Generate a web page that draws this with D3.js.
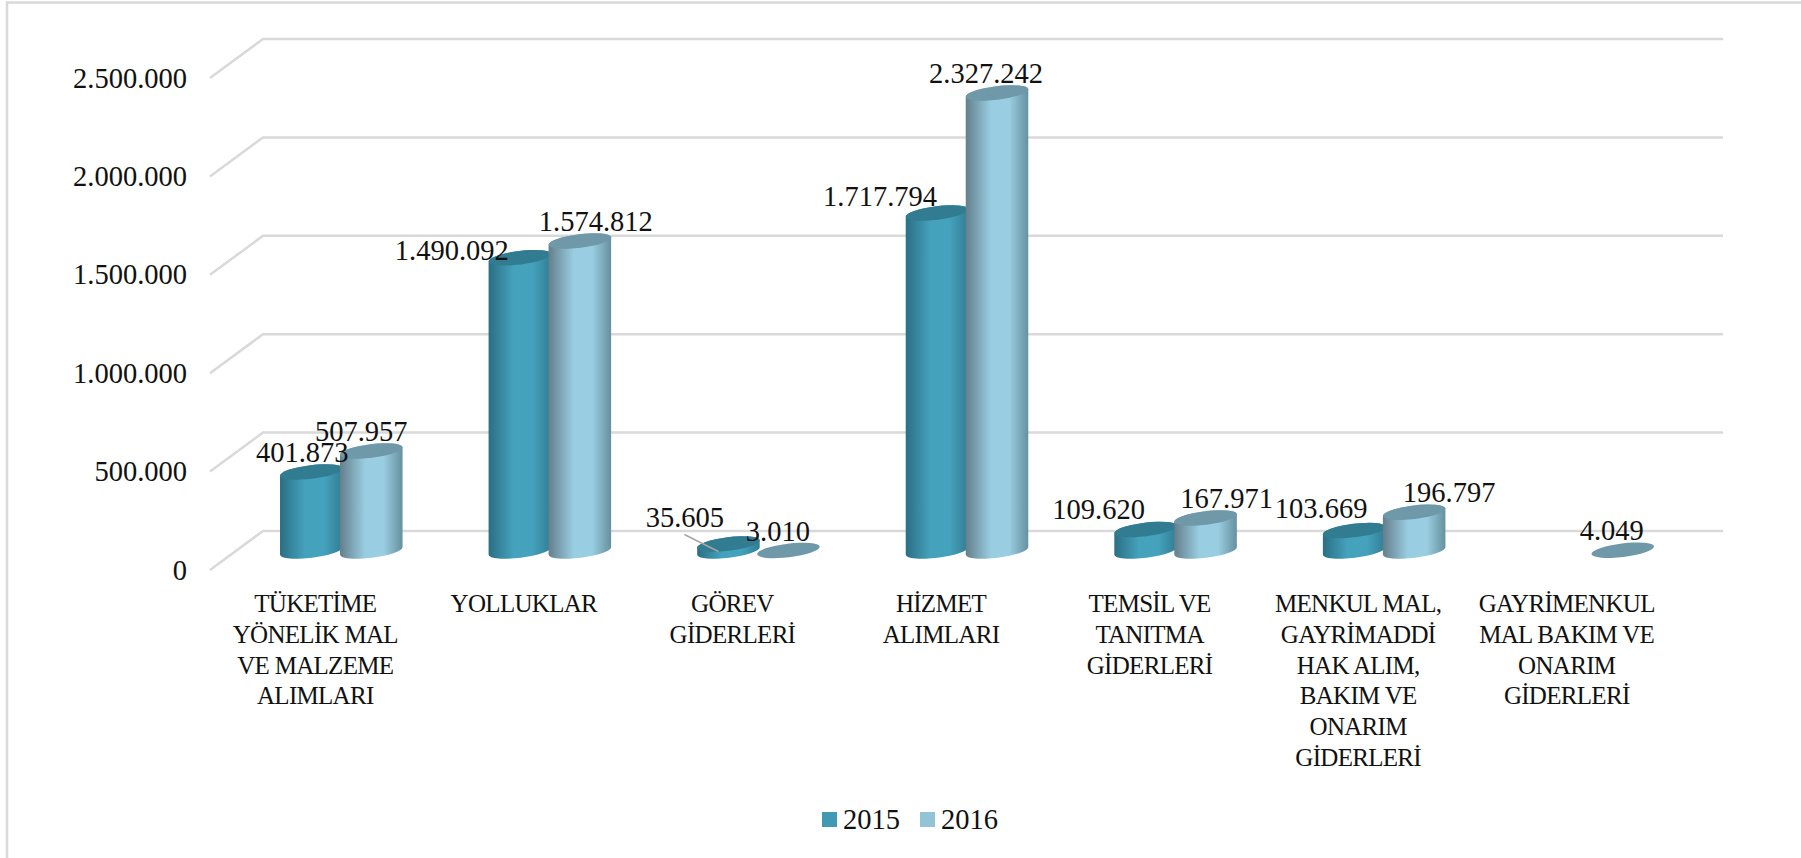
<!DOCTYPE html>
<head>
  <meta charset="utf-8">
  <script src="https://d3js.org/d3.v7.min.js"></script>
  <style>
    body { margin:0; background-color:#fff; overflow:hidden; }
    text { font-family:"Liberation Serif",serif; fill:#111; }
  </style>
</head>
<body>
<script>
var categories = [
  ["TÜKETİME","YÖNELİK MAL","VE MALZEME","ALIMLARI"],
  ["YOLLUKLAR"],
  ["GÖREV","GİDERLERİ"],
  ["HİZMET","ALIMLARI"],
  ["TEMSİL VE","TANITMA","GİDERLERİ"],
  ["MENKUL MAL,","GAYRİMADDİ","HAK ALIM,","BAKIM VE","ONARIM","GİDERLERİ"],
  ["GAYRİMENKUL","MAL BAKIM VE","ONARIM","GİDERLERİ"]
];
var years = ["2015","2016"];
var values2015 = [401873,1490092,35605,1717794,109620,103669,null];
var values2016 = [507957,1574812,3010,2327242,167971,196797,4049];
var yTicks = [0,500000,1000000,1500000,2000000,2500000];

// label nudges from the top of each cylinder, placed by hand like the original
var labelShift2015 = [[-9,-19],[-68,-7],[-43.5,-26.5],[-57,-16],[-47,-20],[-33,-22],[0,0]];
var labelShift2016 = [[-10,-19],[16,-19],[-10.5,-19],[-11,-19],[21,-19],[35,-20],[-11,-20]];

var width = 1801, height = 858;
var depthX = 54, depthY = 39;
var floorLeft = 210, floorRight = 1670, floorY = 570;
var plotH = 492;
var numSize = 28.5, catSize = 25;
var rx = 31.5, ry = 6.8, tilt = -7;

var svg = d3.select("body").append("svg").attr("width",width).attr("height",height);
var defs = svg.append("defs");

function addGrad(id, edgeL, mid, edgeR) {
  var g = defs.append("linearGradient").attr("id",id);
  g.append("stop").attr("offset","0%").attr("stop-color",edgeL);
  g.append("stop").attr("offset","40%").attr("stop-color",mid);
  g.append("stop").attr("offset","70%").attr("stop-color",mid);
  g.append("stop").attr("offset","100%").attr("stop-color",edgeR);
}
addGrad("g2015","#2a6f84","#45a2bd","#317d93");
addGrad("g2016","#647f8c","#99cde1","#66909f");

// chart frame, only top and left show
svg.append("path").attr("d","M7,858V2.5H1801").attr("fill","none").attr("stroke","#d9d9d9").attr("stroke-width",2.5);

var yFront = d3.scaleLinear().domain([0,2500000]).range([floorY,floorY-plotH]);
var yBar = d3.scaleLinear().domain([0,2500000]).range([floorY-depthY/2+0.5,floorY-plotH-depthY/2+0.5]);
var x0 = d3.scaleBand().domain(d3.range(categories.length)).range([floorLeft,floorRight]);
var x1 = d3.scaleBand().domain(years).range([-60,60]);

function barX(i, year) {
  return x0(i)+x0.bandwidth()/2+depthX/2+x1(year)+x1.bandwidth()/2;
}

// walls
var grid = svg.append("g").attr("fill","none").attr("stroke","#d9d9d9").attr("stroke-width",2.5);
yTicks.forEach(function(t){
  var y = yFront(t);
  grid.append("path").attr("d","M"+floorLeft+","+y+"L"+(floorLeft+53)+","+(y-depthY)+"H"+(floorRight+53));
});

// y axis
var fmt = d3.formatLocale({decimal:",",thousands:".",grouping:[3],currency:["",""]}).format(",d");
var yAxis = svg.append("g")
  .attr("transform","translate(192,0)")
  .call(d3.axisLeft(yFront).tickValues(yTicks).tickFormat(fmt).tickSize(0).tickPadding(5));
yAxis.select(".domain").remove();
yAxis.selectAll("text").style("font-family",'"Liberation Serif",serif').style("font-size",numSize+"px").style("fill","#111");

// cylinders
var cos = Math.cos(tilt*Math.PI/180), sin = Math.sin(tilt*Math.PI/180);
function body(cx, top, base) {
  var dx = rx*cos, dy = rx*sin;
  return "M"+(cx-dx)+","+(top-dy)+"V"+(base-dy)
    +"A"+rx+","+ry+" "+tilt+" 0 0 "+(cx+dx)+","+(base+dy)
    +"V"+(top+dy)
    +"A"+rx+","+ry+" "+tilt+" 0 0 "+(cx-dx)+","+(top-dy)+"Z";
}
var series = [
  {year:"2015",values:values2015,fill:"url(#g2015)",cap:"#327c91",shift:labelShift2015},
  {year:"2016",values:values2016,fill:"url(#g2016)",cap:"#6f98a8",shift:labelShift2016}
];
var bars = svg.append("g");
categories.forEach(function(c,i){
  series.forEach(function(s){
    var v = s.values[i];
    if (v === null) return;
    var cx = barX(i,s.year);
    var top = yBar(v), base = yBar(0);
    // the near-zero bar is only a cap in the original
    if (v > 10000) bars.append("path").attr("d",body(cx,top,base)).attr("fill",s.fill);
    bars.append("ellipse").attr("rx",rx).attr("ry",ry)
      .attr("transform","translate("+cx+","+top+") rotate("+tilt+")")
      .attr("fill",s.cap);
  });
});

// leader line for 35.605
var leaderX = barX(2,"2015");
svg.append("line").attr("x1",leaderX-44).attr("y1",yBar(35605)-9.5)
  .attr("x2",leaderX-10).attr("y2",yBar(35605)+7.5)
  .attr("stroke","#a6a6a6").attr("stroke-width",1.5);

// data labels
categories.forEach(function(c,i){
  series.forEach(function(s){
    var v = s.values[i];
    if (v === null) return;
    svg.append("text").attr("x",barX(i,s.year)+s.shift[i][0]).attr("y",yBar(v)+s.shift[i][1])
      .attr("text-anchor","middle").attr("dy","0.33em")
      .style("font-size",numSize+"px").text(fmt(v));
  });
});

// category labels
categories.forEach(function(c,i){
  var t = svg.append("text").attr("text-anchor","middle").style("font-size",catSize+"px").style("letter-spacing","-0.7px");
  c.forEach(function(line,j){
    t.append("tspan").attr("x",x0(i)+x0.bandwidth()/2+1).attr("y",612+j*30.8).text(line);
  });
});

// legend
var legend = svg.append("g").selectAll("g").data(years).enter().append("g")
  .attr("transform",function(d,i){ return "translate("+(822+i*98)+",812)"; });
legend.append("rect").attr("width",15).attr("height",15)
  .attr("fill",function(d,i){ return i==0 ? "#4199b4" : "#92c3d6"; });
legend.append("text").attr("x",21).attr("y",17).style("font-size",numSize+"px")
  .text(function(d){ return d; });
</script>
</body>
